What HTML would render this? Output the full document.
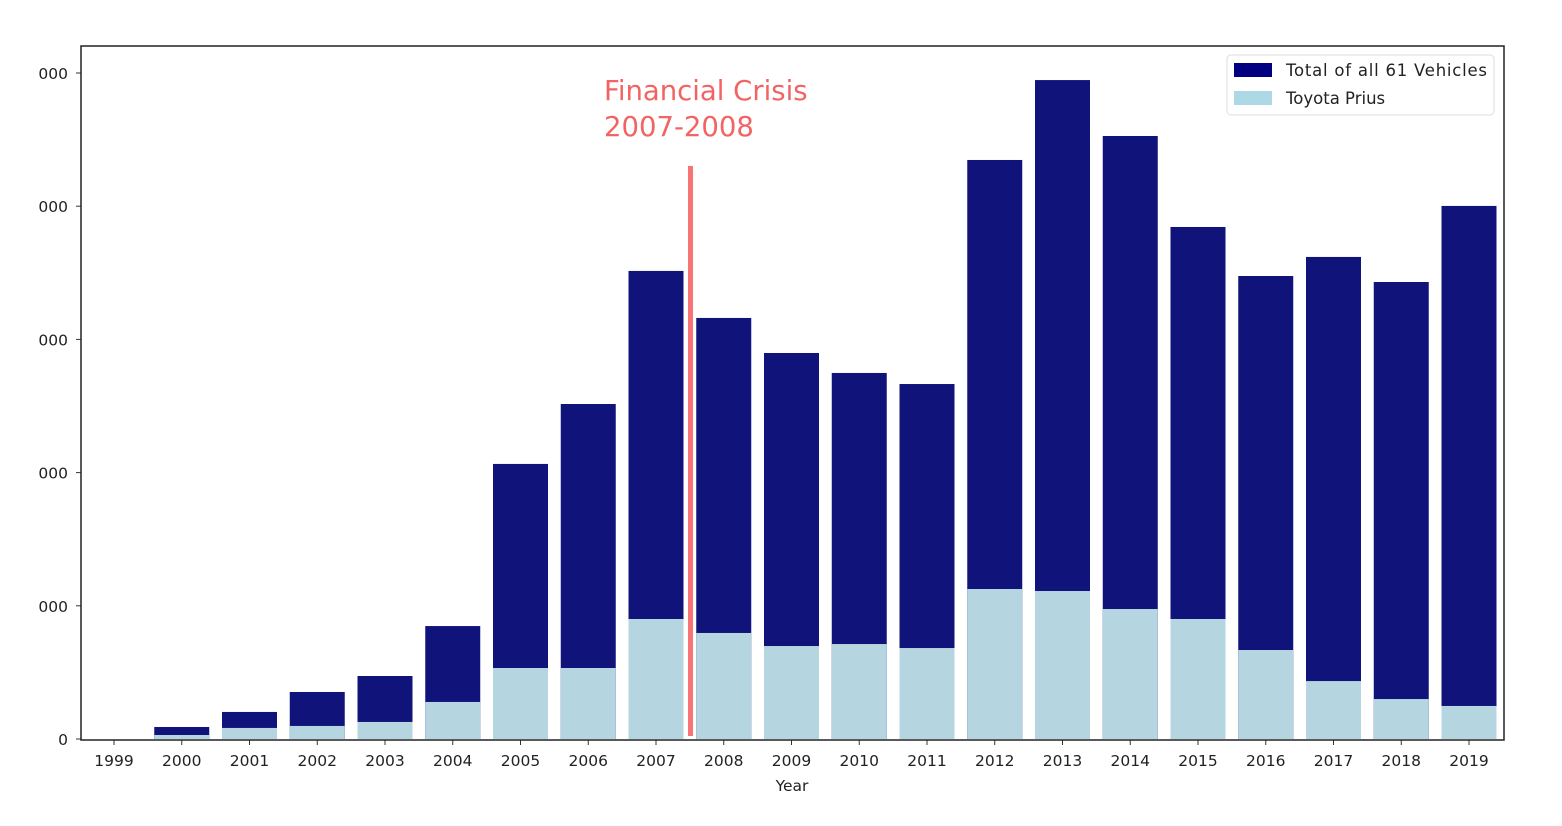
<!DOCTYPE html>
<html><head><meta charset="utf-8"><style>body{margin:0;background:#fff}svg{display:block;font-family:"DejaVu Sans","Liberation Sans",sans-serif}</style></head>
<body>
<svg id="c" width="1562" height="826">
<defs><clipPath id="lc"><rect x="38" y="0" width="60" height="826"/></clipPath></defs>
</svg>
<script>
const years=[1999,2000,2001,2002,2003,2004,2005,2006,2007,2008,2009,2010,2011,2012,2013,2014,2015,2016,2017,2018,2019];
const totals=[0,900,2030,3530,4730,8480,20650,25150,35140,31610,28980,27480,26650,43470,49470,45270,38440,34760,36190,34310,40020];
const prius=[0,300,830,980,1280,2780,5330,5330,9010,7960,6980,7130,6830,11260,11110,9760,9010,6680,4350,3000,2480];
const yTicks=[0,10000,20000,30000,40000,50000];
const yTickLabels=["0","10000","20000","30000","40000","50000"];
const NS="http://www.w3.org/2000/svg",svg=document.getElementById('c');
const L=81,R=1504,T=46,B=740;
const y=v=>739-v*(666/50000);
const x=i=>114+i*67.75;
function mk(t,a,p){const e=document.createElementNS(NS,t);for(const k in a)e.setAttribute(k,a[k]);(p||svg).appendChild(e);return e;}
years.forEach((yr,i)=>{
 const b=mk('rect',{x:x(i)-27.5,y:y(totals[i]),width:55,height:y(0)-y(totals[i]),fill:'#10137a'});
 
 
 const p=mk('rect',{x:x(i)-27.5,y:y(prius[i]),width:55,height:y(0)-y(prius[i]),fill:'#b5d6e0'});
 
 
 mk('line',{x1:x(i),x2:x(i),y1:B,y2:B+5,stroke:'#333'});
 const t=mk('text',{x:x(i),y:766,'font-size':15.5,'text-anchor':'middle',fill:'#222'});t.textContent=yr;
 
 
});
const g=mk('g',{'clip-path':'url(#lc)'});
yTicks.forEach((v,i)=>{
 mk('line',{x1:L-5,x2:L,y1:y(v),y2:y(v),stroke:'#333'});
 const t=mk('text',{x:68,y:y(v)+6,'font-size':15.5,'text-anchor':'end',fill:'#222'},g);t.textContent=yTickLabels[i];
 
 
});
const fr=mk('rect',{x:L,y:T,width:R-L,height:B-T,fill:'none',stroke:'#222','stroke-width':1.5});


const xt=mk('text',{x:792,y:791,'font-size':15.5,'text-anchor':'middle',fill:'#222'});xt.textContent='Year';


const rl=mk('rect',{x:688,y:166,width:5,height:570,fill:'#f87474'});


const a1=mk('text',{x:604,y:100,'font-size':27.5,fill:'#f26363'});a1.textContent='Financial Crisis';


const a2=mk('text',{x:604,y:136,'font-size':27.5,fill:'#f26363'});a2.textContent='2007-2008';


const lg=mk('g',{});


mk('rect',{x:1227,y:55,width:267,height:60,rx:4,fill:'#fff',stroke:'#ddd'},lg);
mk('rect',{x:1234,y:63,width:38,height:14,fill:'#000080'},lg);
mk('rect',{x:1234,y:91,width:38,height:14,fill:'#add8e6'},lg);
const l1=mk('text',{x:1286,y:76,'font-size':16.5,fill:'#222',textLength:201},lg);l1.textContent='Total of all 61 Vehicles';


const l2=mk('text',{x:1286,y:104,'font-size':16.5,fill:'#222'},lg);l2.textContent='Toyota Prius';


</script>
</body></html>
